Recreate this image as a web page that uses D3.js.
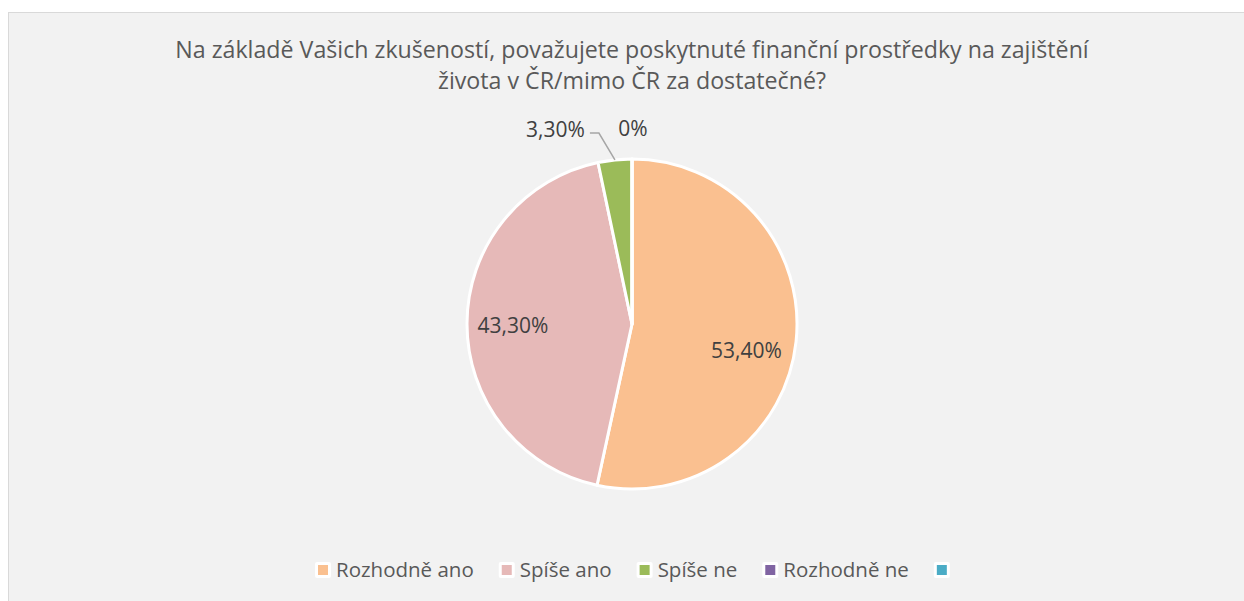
<!DOCTYPE html>
<html>
<head>
<meta charset="utf-8">
<title>pie</title>
<script src="https://cdnjs.cloudflare.com/ajax/libs/d3/7.8.5/d3.min.js"></script>
<style>
  body { margin: 0; background: #fff; }
  text { font-family: "Open Sans", "DejaVu Sans", sans-serif; }
</style>
</head>
<body>
<script>
let width = 1244,
    height = 601;

const titleLines = ['Na základě Vašich zkušeností, považujete poskytnuté finanční prostředky na zajištění',
                    'života v ČR/mimo ČR za dostatečné?'];
const categories = ['Rozhodně ano', 'Spíše ano', 'Spíše ne', 'Rozhodně ne', ''];
const values = [53.4, 43.3, 3.3, 0, 0];
const labels = ['53,40%', '43,30%', '3,30%', '0%', ''];
const colors = ['#FAC090', '#E6B9B8', '#9BBB59', '#8064A2', '#4BACC6'];

let svg = d3.select('body').append('svg')
    .attr('width', width)
    .attr('height', height);

svg.append('rect')
    .attr('x', 8.5).attr('y', 12.5)
    .attr('width', width - 8).attr('height', height - 12)
    .attr('fill', '#f2f2f2')
    .attr('stroke', '#d9d9d9');

svg.append('g').selectAll('text')
    .data(titleLines)
    .enter().append('text')
    .attr('x', 632)
    .attr('y', (d, i) => 58 + i * 31)
    .attr('text-anchor', 'middle')
    .attr('font-size', 23.2)
    .attr('fill', '#595959')
    .text(d => d);

let cx = 632, cy = 324, r = 165;

let pie = d3.pie().sort(null).value(d => d)(values);
let arc = d3.arc().innerRadius(0).outerRadius(r);

let g = svg.append('g').attr('transform', `translate(${cx},${cy})`);

g.selectAll('path')
    .data(pie)
    .enter().append('path')
    .attr('d', arc)
    .attr('fill', (d, i) => colors[i])
    .attr('stroke', '#fff')
    .attr('stroke-width', 3)
    .attr('stroke-linejoin', 'round');

// labels inside the two big slices
let labelArc = d3.arc().innerRadius(r * 0.71).outerRadius(r * 0.71);
let nudge = [[-2, 14], [-2, 2]];
g.selectAll('text.in')
    .data(pie.slice(0, 2))
    .enter().append('text')
    .attr('class', 'in')
    .attr('x', (d, i) => labelArc.centroid(d)[0] + nudge[i][0])
    .attr('y', (d, i) => labelArc.centroid(d)[1] + nudge[i][1])
    .attr('dy', '0.35em')
    .attr('text-anchor', 'middle')
    .attr('font-size', 21)
    .attr('fill', '#404040')
    .text((d, i) => labels[i]);

// small slice, label outside with a leader line
let small = pie[2];
let midA = (small.startAngle + small.endAngle) / 2;
let p0 = [Math.sin(midA) * r, -Math.cos(midA) * r];
let p1 = [p0[0] - 16, -191];
g.append('path')
    .attr('d', d3.line()([p0, p1, [p1[0] - 9, p1[1]]]))
    .attr('fill', 'none')
    .attr('stroke', '#a6a6a6')
    .attr('stroke-width', 1.5);
g.append('text')
    .attr('x', p1[0] - 14)
    .attr('y', p1[1] - 3)
    .attr('dy', '0.35em')
    .attr('text-anchor', 'end')
    .attr('font-size', 21)
    .attr('fill', '#404040')
    .text(labels[2]);
g.append('text')
    .attr('x', Math.sin(pie[3].startAngle) * r + 1)
    .attr('y', -195)
    .attr('dy', '0.35em')
    .attr('text-anchor', 'middle')
    .attr('font-size', 21)
    .attr('fill', '#404040')
    .text(labels[3]);

// legend
let lg = svg.append('g').attr('transform', 'translate(0,570)');
let lx = 318;
categories.forEach((c, i) => {
    lg.append('rect')
        .attr('x', lx - 3).attr('y', -8)
        .attr('width', 16).attr('height', 16)
        .attr('rx', 2)
        .attr('fill', '#fff');
    lg.append('rect')
        .attr('x', lx).attr('y', -5)
        .attr('width', 10).attr('height', 10)
        .attr('fill', colors[i]);
    let t = lg.append('text')
        .attr('x', lx + 18)
        .attr('dy', '0.35em')
        .attr('font-size', 20.5)
        .attr('fill', '#595959')
        .text(c);
    lx += 18 + t.node().getComputedTextLength() + 28;
});
</script>
</body>
</html>
